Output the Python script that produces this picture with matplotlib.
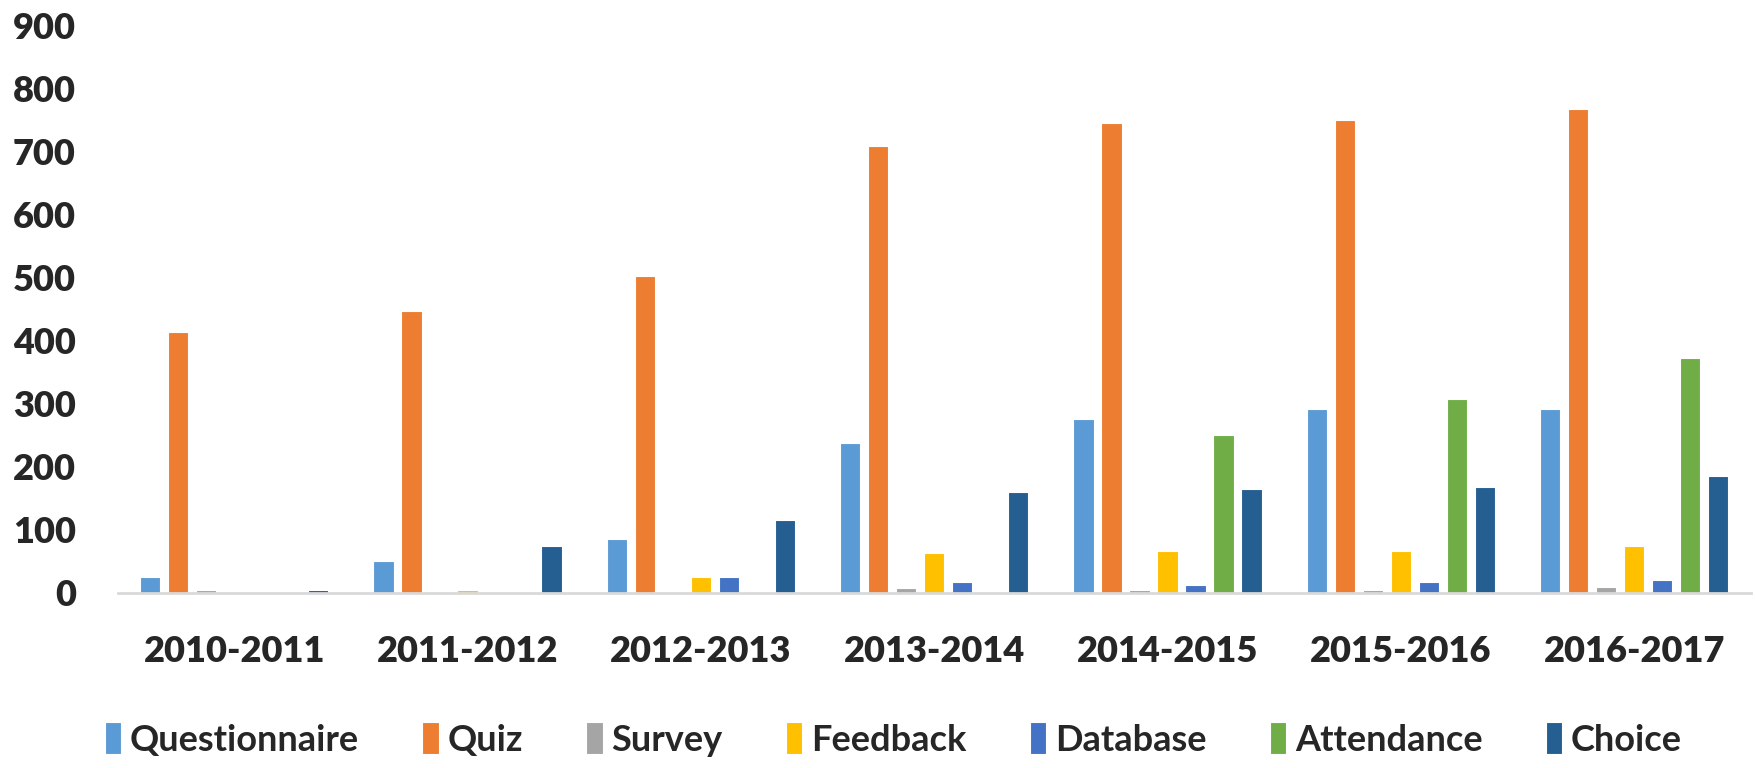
import numpy as np
import matplotlib.pyplot as plt

years = ['2010-2011', '2011-2012', '2012-2013', '2013-2014',
         '2014-2015', '2015-2016', '2016-2017']
series = ['Questionnaire', 'Quiz', 'Survey', 'Feedback',
          'Database', 'Attendance', 'Choice']

questionnaire = [25, 51, 85, 238, 275, 291, 291]
quiz = [413, 447, 503, 708, 745, 750, 768]
survey = [5, 0, 0, 8, 5, 5, 10]
feedback = [0, 4, 26, 63, 67, 67, 74]
database = [0, 0, 26, 17, 13, 17, 20]
attendance = [0, 0, 0, 0, 250, 308, 372]
choice = [5, 74, 115, 160, 165, 168, 186]

values = [questionnaire, quiz, survey, feedback, database, attendance, choice]
colors = ['#5B9BD5', '#ED7D31', '#A5A5A5', '#FFC000',
          '#4472C4', '#70AD47', '#255E91']

fig = plt.figure(figsize=(17.56, 7.68), dpi=100)
ax = fig.add_axes([0.067, 0.228, 0.93, 0.739])

x = np.arange(len(years))
pitch = 0.12
width = 0.087
for i, (name, vals, c) in enumerate(zip(series, values, colors)):
    ax.bar(x + (i - 3) * pitch, vals, width, color=c, label=name,
           edgecolor='white', linewidth=0.8)

ax.set_ylim(0, 900)
ax.set_xlim(-0.5, len(years) - 0.5)
ax.set_yticks(range(0, 901, 100))
ax.set_xticks(x)
ax.set_xticklabels(years)

for s in ['top', 'right', 'left']:
    ax.spines[s].set_visible(False)
ax.spines['bottom'].set_color('#D9D9D9')
ax.spines['bottom'].set_linewidth(2)

ax.tick_params(axis='x', length=0, pad=30)
ax.tick_params(axis='y', length=0, pad=30)
for lab in ax.get_xticklabels() + ax.get_yticklabels():
    lab.set_fontfamily(['Lato', 'DejaVu Sans'])
    lab.set_fontweight('heavy')
    lab.set_fontsize(26)
    lab.set_color('#262626')

leg = ax.legend(loc='center', bbox_to_anchor=(0.475, -0.258), ncol=7,
                frameon=False, handlelength=0.45, handleheight=1.0,
                handletextpad=0.25, columnspacing=1.75, borderpad=0.2,
                prop={'family': ['Lato', 'DejaVu Sans'],
                      'weight': 'bold', 'size': 26})
for t in leg.get_texts():
    t.set_color('#262626')

fig.savefig('out.png', dpi=100)
